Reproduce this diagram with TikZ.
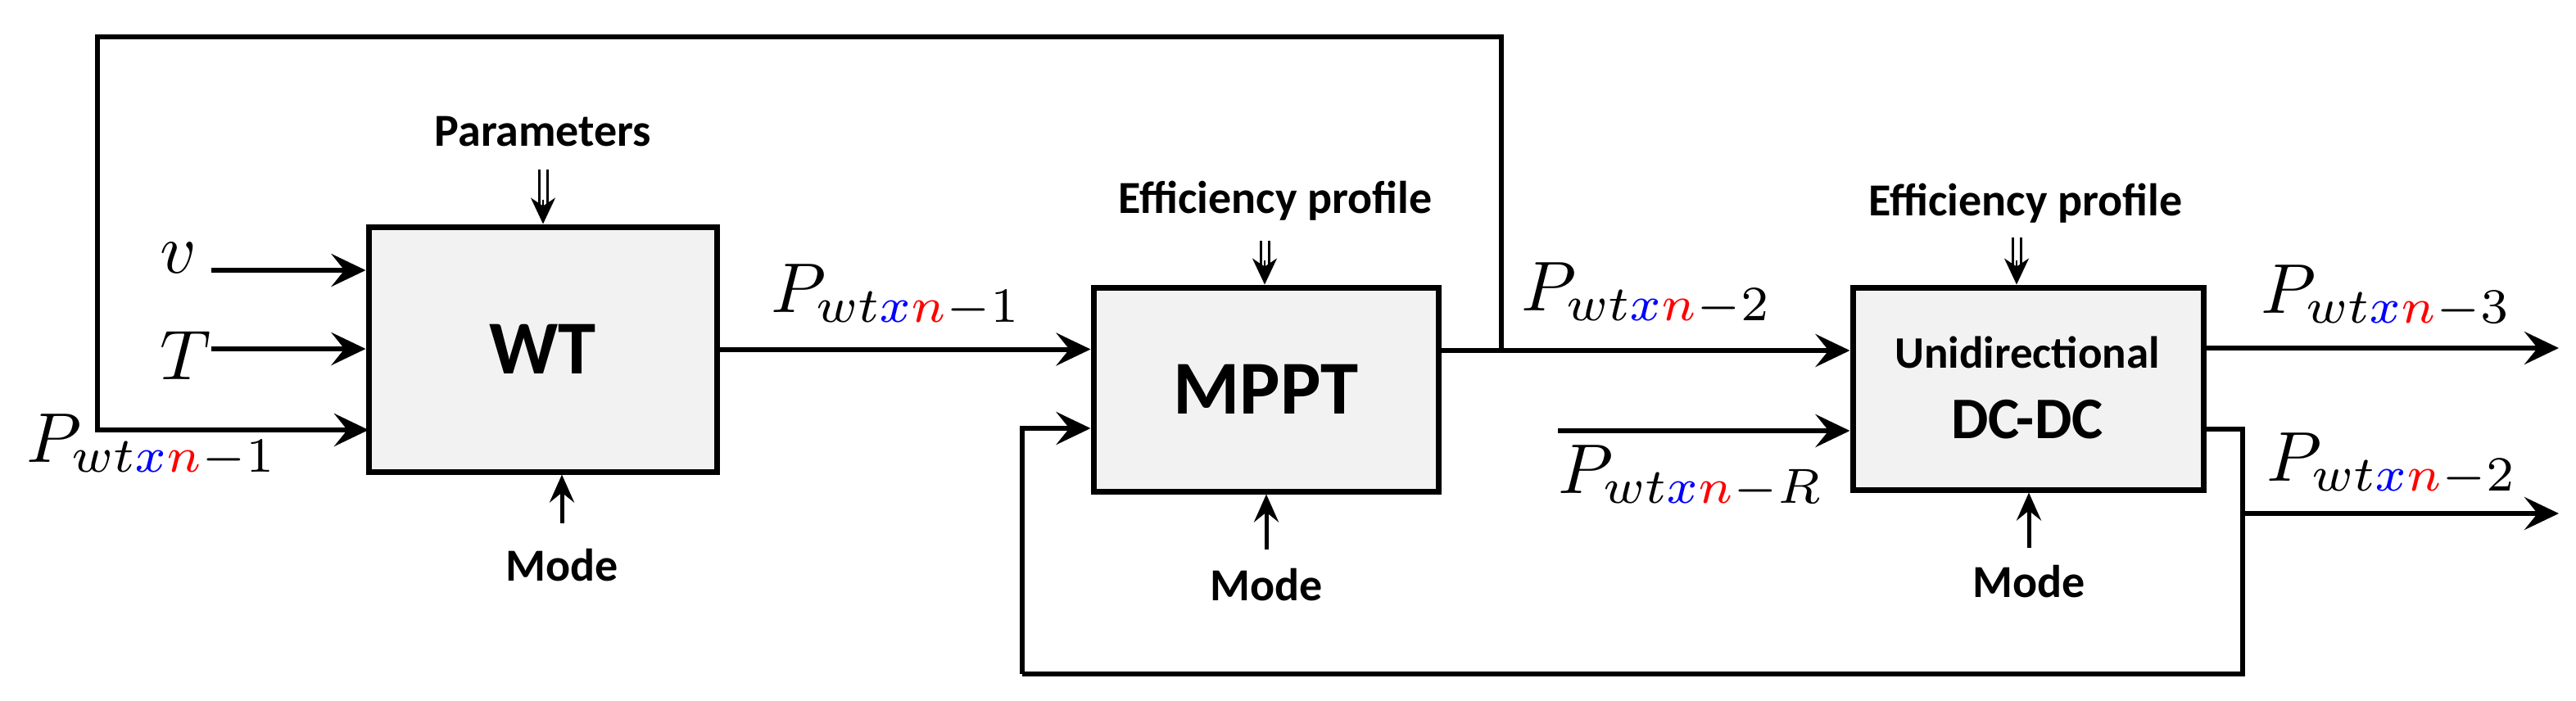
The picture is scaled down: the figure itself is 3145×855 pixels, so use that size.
\documentclass[tikz,border=0pt]{standalone}
\usepackage{graphicx}
\usepackage{fontspec}
\setmainfont{Carlito}
\usetikzlibrary{arrows.meta,calc}
\begin{document}
\begin{tikzpicture}[x=1pt,y=-1pt,
  blk/.style={draw,line width=7pt,fill=black!5,inner sep=0pt,font=\bfseries},
  wire/.style={line width=6pt},
  arr/.style={wire,-{Stealth[length=42pt,width=40pt,inset=16pt]}},
  marr/.style={line width=5pt,-{Stealth[length=34pt,width=30pt,inset=12pt]}},
  lbl/.style={inner sep=0pt,font=\fontsize{56}{60}\selectfont\bfseries},
  mth/.style={inner sep=0pt,anchor=base west,font=\normalsize}]
\useasboundingbox (0,0) rectangle (3145,855);
\newcommand{\Pw}[1]{\scalebox{8.6}{$P_{wt\textcolor{blue}{x}\textcolor{red}{n}-#1}$}}
\newcommand{\Mv}[1]{\scalebox{8.6}{$#1$}}
% blocks
\node[blk,minimum width=425pt,minimum height=299pt,font=\fontsize{93}{95}\selectfont\bfseries] (WT) at (662.5,426.5) {WT};
\node[blk,minimum width=421pt,minimum height=249pt,font=\fontsize{93}{95}\selectfont\bfseries] (MPPT) at (1545.5,475.5) {MPPT};
\node[blk,minimum width=428pt,minimum height=247pt] (DC) at (2476,474.5) {};
\node[lbl,font=\fontsize{55}{58}\selectfont\bfseries] (uni) at (2475,430) {Unidirectional};
\node[lbl,font=\fontsize{72}{75}\selectfont\bfseries] (dcdc) at (2475,512) {DC-DC};
% labels
\node[lbl] (par) at (663,161) {Parameters};
\node[lbl] (eff1) at (1557,245) {Efficiency profile};
\node[lbl] (eff2) at (2473,248) {Efficiency profile};
\node[lbl] (mode1) at (686,690) {Mode};
\node[lbl] (mode2) at (1546,714) {Mode};
\node[lbl] (mode3) at (2477,710) {Mode};
\node[mth] (lv) at (195,333) {\Mv{v}};
\node[mth] (lT) at (195,463) {\Mv{T}};
\node[mth] (lp0) at (32,564) {\Pw{1}};
\node[mth] (lp1) at (941,381) {\Pw{1}};
\node[mth] (lp2) at (1857,379) {\Pw{2}};
\node[mth] (lpR) at (1902,602) {\Pw{R}};
\node[mth] (lp3) at (2760,382) {\Pw{3}};
\node[mth] (lp4) at (2767,587) {\Pw{2}};
% coordinates
\coordinate (vs) at (258,330);
\coordinate (Ts) at (258,426);
\coordinate (jn) at (1833,428);
\coordinate (tl) at (119,45);
\coordinate (fbw) at (450,525);
\coordinate (rs) at (1902,526);
\coordinate (o3) at (3124,425);
\coordinate (dco) at (2738,524);
\coordinate (br) at (2738,627);
\coordinate (o4) at (3124,627);
\coordinate (bb) at (1248,823);
\coordinate (mi) at (1248,523);
\coordinate (pa) at (663,207);
\coordinate (ea) at (1544,294);
\coordinate (eb) at (2462,290);
\coordinate (ma) at (686,639);
\coordinate (mb) at (1546,671);
\coordinate (mc) at (2477,669);
% connectors
\draw[arr] (vs) -- (vs -| WT.west);
\draw[arr] (Ts) -- (Ts -| WT.west);
\draw[arr] (WT.east) -- (WT.east -| MPPT.west);
\draw[arr] (MPPT.east |- jn) -- (jn -| DC.west);
\draw[arr] (jn) |- (tl) |- (fbw);
\draw[arr] (rs) -- (rs -| DC.west);
\draw[arr] (DC.east |- o3) -- (o3);
\draw[wire] (DC.east |- dco) -- (dco) |- (bb);
\draw[arr] (bb) |- (mi) -- (mi -| MPPT.west);
\draw[arr] (br) -- (o4);
\draw[marr] (ma) -- (ma |- WT.south);
\draw[marr] (mb) -- (mb |- MPPT.south);
\draw[marr] (mc) -- (mc |- DC.south);
\foreach \p/\b in {pa/WT,ea/MPPT,eb/DC}{
  \draw[line width=3pt] ($(\p)+(-5,0)$) -- ($(\p |- \b.north)+(-5,-22)$);
  \draw[line width=3pt] ($(\p)+(5,0)$) -- ($(\p |- \b.north)+(5,-22)$);
  \draw[line width=2pt,-{Stealth[length=32pt,width=30pt,inset=10pt]}] ($(\p |- \b.north)+(0,-30)$) -- (\p |- \b.north);
}
\end{tikzpicture}
\end{document}
